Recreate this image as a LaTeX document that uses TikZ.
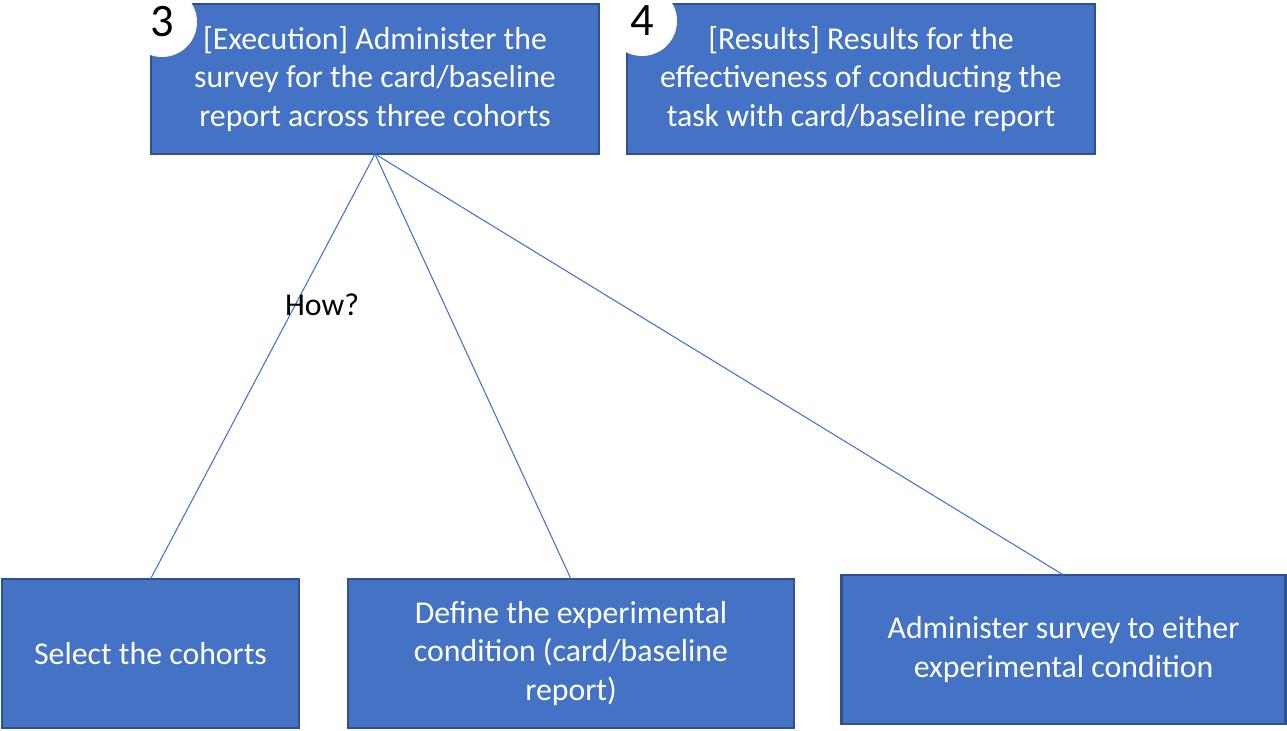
\documentclass[tikz,border=0pt]{standalone}
\usepackage{fontspec}
\setmainfont{Carlito}
\usetikzlibrary{positioning}
\definecolor{boxblue}{HTML}{4472C4}
\definecolor{boxedge}{HTML}{2F528F}
\tikzset{%
	task/.style    = {draw=boxedge, line width=1.3pt, fill=boxblue, rectangle, text=white, align=center, inner sep=0pt, outer sep=0pt, minimum height=3cm, font=\fontsize{18.1}{21.9}\selectfont},
	stepnum/.style = {circle, fill=white, minimum size=1.4cm, inner sep=0pt, font=\fontsize{26.5}{30}\selectfont},
	link/.style    = {draw=boxblue, line width=0.6pt},
}

\begin{document}
\begin{tikzpicture}[x=0.02cm, y=-0.02cm]
	\useasboundingbox (0,0) rectangle (1287,730);
	
	\node[task, minimum width=8.96cm] (execution) at (375,79) {[Execution] Administer the\\survey for the card/baseline\\report across three cohorts};
	\node[task, minimum width=9.36cm] (results) at (861,79) {[Results] Results for the\\effectiveness of conducting the\\task with card/baseline report};
	
	\node[task, minimum width=5.94cm, minimum height=2.98cm] (cohorts) at (150.5,653.5) {Select the cohorts};
	\node[task, minimum width=8.92cm, minimum height=2.98cm] (condition) at (571,653.5) {Define the experimental\\condition (card/baseline\\report)};
	\node[task, minimum width=8.88cm, minimum height=2.98cm] (administer) at (1063.5,649.5) {Administer survey to either\\experimental condition};
	
	\foreach \target in {cohorts,condition,administer} \draw[link] (execution.south) -- (\target.north);
	
	\node[stepnum] (num3) at (162,22) {3};
	\node[stepnum] (num4) at (642,21) {4};
	
	\node[font=\fontsize{18.1}{21.9}\selectfont] (how) at (322,305) {How?};
\end{tikzpicture}
\end{document}
